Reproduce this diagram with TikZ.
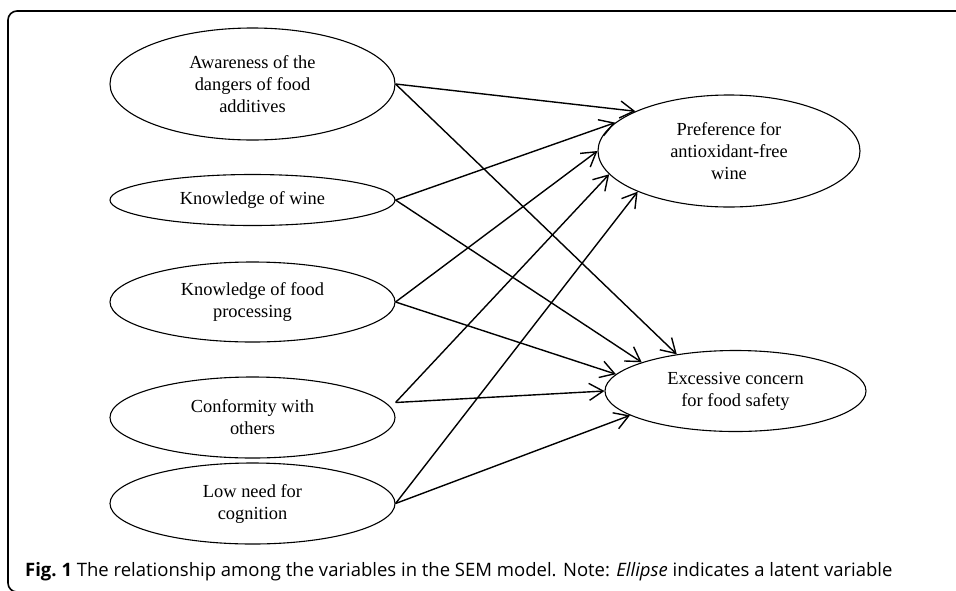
\documentclass[tikz,border=0pt]{standalone}
\usepackage{fontspec}
\setmainfont{Liberation Serif}
\newfontfamily\capfont{Open Sans}
\usetikzlibrary{shapes.geometric,arrows.meta}

\begin{document}
\begin{tikzpicture}[x=1pt,y=-1pt,
  latent/.style={draw,ellipse,line width=1.1pt,inner sep=0pt,align=center,
    font=\fontsize{18.4}{22}\selectfont},
  effect/.style={line width=1.4pt,
    -{Straight Barb[length=14pt,width=17pt,line width=1.4pt]}}]
\useasboundingbox (0,0) rectangle (956,590);

%frame
\draw[line width=1.6pt,rounded corners=9pt] (970,11) -- (8,11) -- (8,592) -- (970,592);

%exogenous variables
\node[latent,minimum width=285pt,minimum height=112pt] (aware) at (252.5,84) {Awareness of the\\dangers of food\\additives};
\node[latent,minimum width=285pt,minimum height=51pt]  (wine)  at (252.5,200) {Knowledge of wine};
\node[latent,minimum width=285pt,minimum height=80pt]  (proc)  at (252.5,302) {Knowledge of food\\processing};
\node[latent,minimum width=285pt,minimum height=81pt]  (conf)  at (252.5,417.5) {Conformity with\\others};
\node[latent,minimum width=285pt,minimum height=81pt]  (low)   at (252.5,503.5) {Low need for\\cognition};

%endogenous variables
\node[latent,minimum width=262pt,minimum height=112pt] (pref) at (729,151) {Preference for\\antioxidant-free\\wine};
\node[latent,minimum width=261pt,minimum height=81pt]  (conc) at (735.5,391) {Excessive concern\\for food safety};

\coordinate (conf-out) at ([yshift=15pt]conf.east);

\draw[effect] (aware.east) -- (pref.157);
\draw[effect] (aware.east) -- (conc.148);
\draw[effect] (wine.east)  -- (pref.166);
\draw[effect] (wine.east)  -- (conc.163);
\draw[effect] (proc.east)  -- (pref.180);
\draw[effect] (proc.east)  -- (conc.172);
\draw[effect] (conf-out)   -- (pref.191);
\draw[effect] (conf-out)   -- (conc.180);
\draw[effect] (low.east)   -- (pref.204);
\draw[effect] (low.east)   -- (conc.193);

\node[anchor=base west,inner sep=0pt,font=\capfont\fontsize{18.5}{22}\selectfont] (caption) at (25,576)
  {\textbf{Fig.~1} The relationship among the variables in the SEM model. Note: \textit{Ellipse} indicates a latent variable};

\end{tikzpicture}
\end{document}
